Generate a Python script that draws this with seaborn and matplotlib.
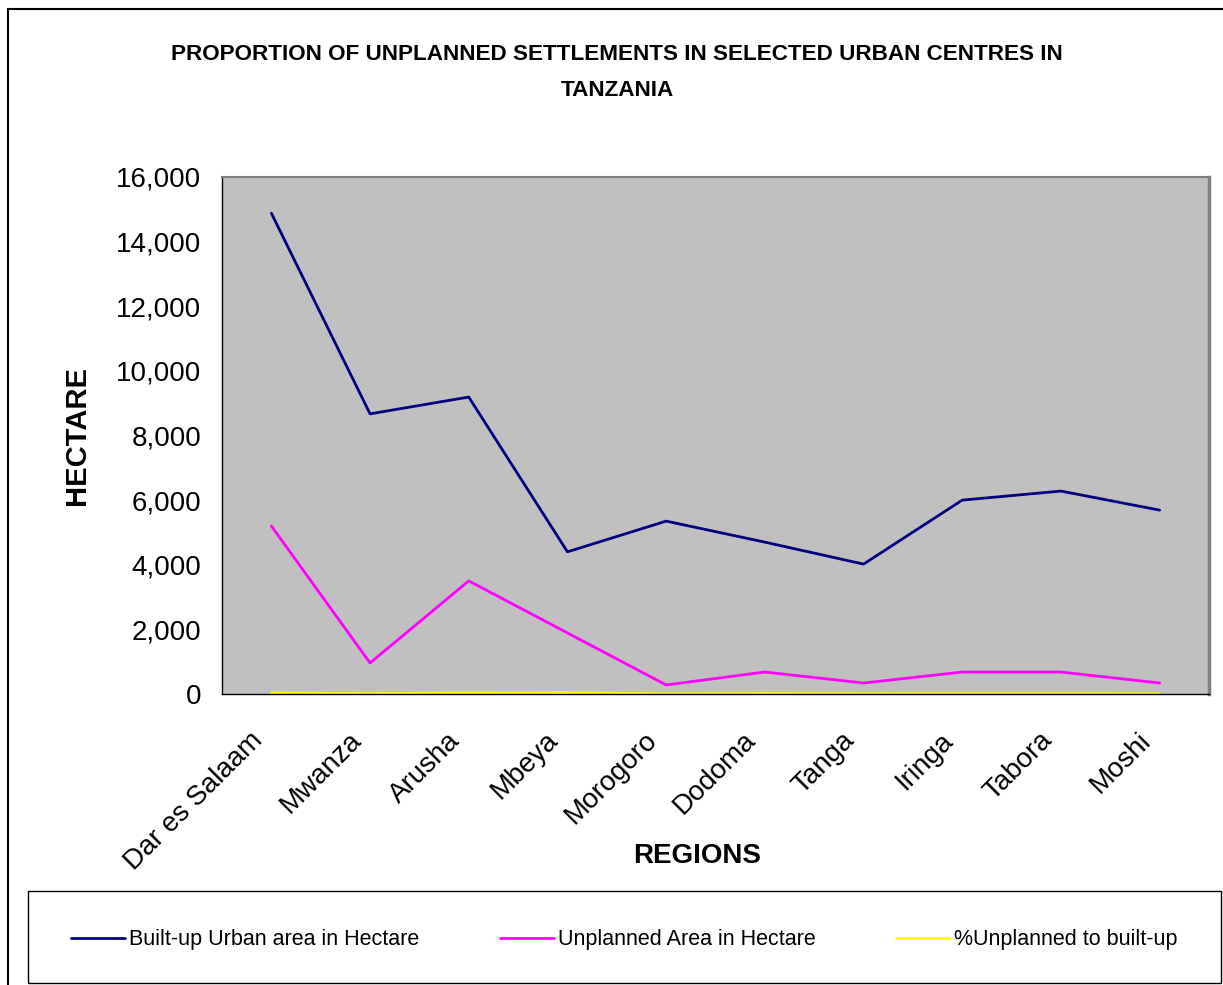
import pandas as pd
import numpy as np
import matplotlib.pyplot as plt
import matplotlib.ticker as mtick
import matplotlib.transforms as mtrans
import seaborn as sns

regions = ['Dar es Salaam', 'Mwanza', 'Arusha', 'Mbeya', 'Morogoro',
           'Dodoma', 'Tanga', 'Iringa', 'Tabora', 'Moshi']
built_up = [14880, 8670, 9190, 4400, 5350, 4700, 4020, 6000, 6280, 5690]
unplanned = [5200, 960, 3500, 1890, 280, 680, 340, 680, 680, 340]
pct_unplanned = [35, 11, 38, 43, 5, 14, 8, 11, 11, 6]

series_names = ['Built-up Urban area in Hectare', 'Unplanned Area in Hectare',
                '%Unplanned to built-up']
colors = ['#000080', '#FF00FF', '#FFFF00']

df = pd.DataFrame({'region': regions, series_names[0]: built_up,
                   series_names[1]: unplanned, series_names[2]: pct_unplanned})
long = df.melt(id_vars='region', var_name='series', value_name='value')
long['pos'] = long['region'].map({r: i for i, r in enumerate(regions)})

sns.set_style("white")
plt.rcParams['font.family'] = ['Liberation Sans', 'DejaVu Sans']
plt.rcParams['text.color'] = 'black'
plt.rcParams['axes.labelcolor'] = 'black'
plt.rcParams['xtick.color'] = 'black'
plt.rcParams['ytick.color'] = 'black'
narrow = ['Liberation Sans Narrow', 'Liberation Sans', 'DejaVu Sans']

fig = plt.figure(figsize=(12.23, 9.85), dpi=100)
ax = fig.add_axes([222/1223, 1-694/985, 987/1223, 517/985])
ax.set_facecolor('#C0C0C0')

sns.lineplot(data=long, x='pos', y='value', hue='series', hue_order=series_names,
             palette=colors, linewidth=2.0, ax=ax, legend=False, sort=False)

ax.set_xlim(-0.5, len(regions)-0.5)
ax.set_ylim(0, 16000)
ax.set_yticks(np.arange(0, 16001, 2000))
ax.yaxis.set_major_formatter(mtick.FuncFormatter(lambda v, p: f'{int(v):,}'))
ax.set_xticks(range(len(regions)))
ax.set_xticklabels(regions, rotation=45, ha='right', rotation_mode='anchor')
ax.set_xticks(np.arange(-0.5, len(regions)), minor=True)
ax.tick_params(axis='x', which='major', length=0, labelsize=20, pad=24)
ax.tick_params(axis='x', which='minor', length=7, width=1, direction='out', color='black')
ax.tick_params(axis='y', length=7, width=1, direction='out', labelsize=20, color='black', pad=8)
ax.grid(False)

# nudge rotated category labels left (after tick_params, which resets transforms)
shift = mtrans.ScaledTranslation(-22/100, 0, fig.dpi_scale_trans)
for lab in ax.get_xticklabels():
    lab.set_transform(lab.get_transform() + shift)

for s in ['left', 'bottom']:
    ax.spines[s].set_color('black')
    ax.spines[s].set_linewidth(1)
ax.spines['top'].set_color('#808080')
ax.spines['top'].set_linewidth(1.5)
ax.spines['right'].set_color('#808080')
ax.spines['right'].set_linewidth(2.5)

ax.set_xlabel('REGIONS', fontsize=20, fontweight='bold')
ax.xaxis.set_label_coords(0.481, -0.288)
ax.set_ylabel('HECTARE', fontsize=21, fontweight='bold', va='center')
ax.yaxis.set_label_coords(-0.147, 0.5)

fig.text(617/1223, 1-55/985, 'PROPORTION OF UNPLANNED SETTLEMENTS IN SELECTED URBAN CENTRES IN',
         ha='center', va='center', fontsize=16.2, fontweight='bold', family=narrow)
fig.text(617/1223, 1-90/985, 'TANZANIA',
         ha='center', va='center', fontsize=16.2, fontweight='bold', family=narrow)

# outer chart border (left and top visible)
fig.add_artist(plt.Line2D([8/1223, 8/1223], [0, 1-9/985], color='black', lw=1.5,
                          transform=fig.transFigure))
fig.add_artist(plt.Line2D([8/1223, 1], [1-9/985, 1-9/985], color='black', lw=1.5,
                          transform=fig.transFigure))

# legend box
fig.add_artist(plt.Rectangle((28/1223, 2/985), 1193/1223, 92/985,
                             transform=fig.transFigure, fill=False,
                             edgecolor='black', lw=1))

handles = [plt.Line2D([], [], color=c, lw=2.0) for c in colors]
leg = fig.legend(handles, series_names, loc='center',
                 bbox_to_anchor=(28/1223, -1/985, 1193/1223, 92/985),
                 mode='expand', ncol=3, frameon=False,
                 borderaxespad=0, handlelength=2.5, handletextpad=0.2,
                 prop={'family': narrow, 'size': 15.5}, borderpad=2.0)

plt.savefig('out.png', dpi=100)
